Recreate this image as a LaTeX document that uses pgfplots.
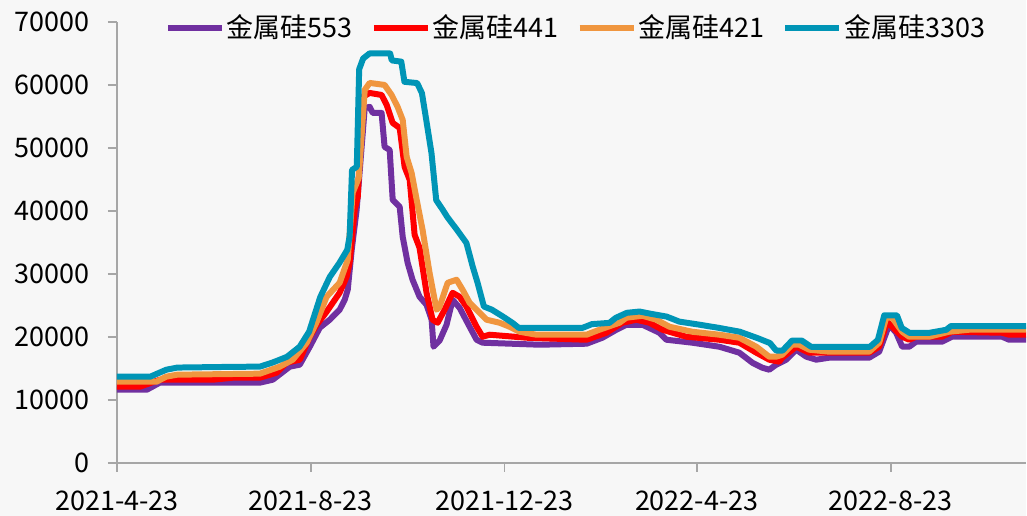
\documentclass[border=0pt]{standalone}
\usepackage{fontspec}
\setmainfont{Noto Sans CJK SC}
\usepackage{pgfplots}
\pgfplotsset{compat=1.18}
\definecolor{cA}{HTML}{7030A0}
\definecolor{cB}{HTML}{FF0000}
\definecolor{cC}{HTML}{F0963F}
\definecolor{cD}{HTML}{0095B6}
\definecolor{bgc}{HTML}{F7F7F7}
\definecolor{axc}{HTML}{A6A6A6}

\pgfplotstableread{
x y
0 11590
18.9 11590
27 12700
90 12700
98.1 13170
108.8 15240
115.1 15560
121.4 18410
127.7 21430
134 22700
140.2 24290
143.4 25870
145.3 27460
147.8 33810
150.9 40160
156 56350
159.1 56510
161 55560
166.6 55560
168.5 50160
171.7 49680
173.6 41750
178 40630
179.9 35870
183 31750
186.1 29050
190.5 26350
194.9 25080
198.1 22700
199.3 18410
203.1 19370
207.5 21900
211.3 25870
215.7 24600
222 21590
226.4 19520
230.2 19050
266 18730
295.6 18890
305.6 19840
314.4 21110
320.7 21900
330.8 21900
341.5 20630
345.9 19520
362.2 19050
379.2 18410
385.5 17940
391.8 17460
400 15870
406.2 15080
410.6 14760
415 15560
421.3 16350
427.6 17940
433.9 16830
440.2 16350
448.4 16670
473.5 16670
479.8 17620
486.1 21900
490.5 20630
494.3 18410
498.7 18410
503.1 19210
519.4 19210
525.7 20000
557.2 20000
561.6 19520
572.3 19520
}\tA

\pgfplotstableread{
x y
0 12060
14.5 12060
27 13170
60.4 13170
73 13490
90 13490
100.6 14290
106.9 15870
115.1 16350
121.4 20000
125.8 21900
132 23970
140.2 26980
144.6 29520
146.5 31750
149.7 40160
151.6 42220
154.7 58100
159.1 58730
166.6 58410
169.8 56830
173.6 53970
178 53170
181.1 46980
184.3 44920
187.4 36190
190.5 34130
194.9 26980
198.7 22700
201.9 22220
206.3 24290
211.3 26980
215.7 26350
220.1 24760
226.4 21590
230.2 20000
234.6 20320
257.8 19840
295.6 19520
308.1 20630
318.2 22220
327 22700
335.2 22220
343.4 21110
358.4 20000
379.2 19520
391.8 19050
402.5 17460
410.6 16350
416.9 16030
418.8 16670
427.6 18410
435.8 17460
473.5 17460
479.8 18410
484.8 22380
488 21590
494.3 20000
498.7 19520
503.1 20000
519.4 20000
525.7 20790
557.2 20630
561.6 20320
572.3 20320
}\tB

\pgfplotstableread{
x y
0 12860
25 12860
31 13650
38 13970
90 14130
102.5 15240
110.7 16350
119.5 19050
125.8 22380
132 26350
140.2 28570
145.3 32220
148.4 42860
152.2 45240
156 59210
159.1 60320
168.5 60000
172.9 58410
176.7 56510
179.9 54440
182.4 48570
185.5 46030
188.7 41750
192.4 36980
196.8 30160
201.2 24290
203.1 24760
208.2 28570
213.8 29050
217.6 27460
222 25400
228.3 23810
232.7 22700
240.9 22220
247.1 21590
253.4 20790
264.1 20320
295.6 20320
303.7 21110
316.3 22220
320.7 23020
330.8 23330
339.6 22700
347.8 21590
362.2 20790
379.2 20320
391.8 19840
402.5 18410
410.6 16830
415 16830
418.8 17140
425.1 18730
429.5 18730
435.8 17940
448.4 17620
473.5 17620
479.8 19050
484.2 23020
488 23020
494.3 20790
498.7 20000
511.3 20000
523.8 20790
536.4 21110
572.3 21110
}\tC

\pgfplotstableread{
x y
0 13650
21 13650
31 14750
38 15100
69 15200
90 15250
98 15900
107 16800
115 18400
121 20800
128 26300
134 29500
140 31700
145 33800
146.5 36000
148 46500
151 47000
152.5 62500
155 64200
159 65000
172 65000
173 63900
179 63700
181 60500
189 60300
192 58700
195 54000
198 49200
201 41700
205 40200
208 39000
214 37000
220 34900
224 31100
227 28600
231 24800
236 24300
243 23200
249 22200
253 21400
293 21400
299 22000
310 22200
314 23000
321 23800
329 24000
337 23600
346 23200
354 22400
367 21900
379 21400
392 20800
403 19800
411 19000
415 17800
419 17800
425 19400
431 19400
437 18400
448 18400
474 18400
479 19500
483 23400
491 23400
494 21400
499 20600
511 20600
522 21100
525 21700
572.3 21700
}\tD

\begin{document}
\begin{tikzpicture}
\fill[bgc] (-58.5pt,-26.5pt) rectangle (455pt,231.5pt);
\begin{axis}[
  scale only axis, width=455pt, height=220.5pt,
  xmin=0, xmax=572.3, ymin=0, ymax=70000,
  axis lines*=left,
  scaled y ticks=false,
  axis line style={draw=axc, line width=0.9pt},
  xtick={0,122,244,365,487},
  xticklabels={2021-4-23,2021-8-23,2021-12-23,2022-4-23,2022-8-23},
  ytick={0,10000,20000,30000,40000,50000,60000,70000},
  yticklabels={0,10000,20000,30000,40000,50000,60000,70000},
  tick align=outside, major tick length=4.5pt,
  tick style={draw=axc, line width=0.9pt},
  ticklabel style={font=\fontsize{13.5}{14}\selectfont, text=black, inner sep=0pt},
  yticklabel style={anchor=east, xshift=-9pt},
  xticklabel style={anchor=north, yshift=-9.5pt},
  legend columns=4,
  legend style={at={(0.505,1)}, anchor=center, yshift=-3pt, draw=none, fill=none,
    font=\fontsize{13.5}{14}\selectfont, inner sep=0pt,
    nodes={inner sep=1pt},
    /tikz/every even column/.append style={column sep=8pt}},
  legend image code/.code={\draw[#1, line width=3pt] (0pt,0pt) -- (27pt,0pt);},
  every axis plot/.append style={line width=3pt, line join=round},
  clip=true,
]
\addplot[cA] table {\tA};
\addlegendentry{金属硅553}
\addplot[cB] table {\tB};
\addlegendentry{金属硅441}
\addplot[cC] table {\tC};
\addlegendentry{金属硅421}
\addplot[cD] table {\tD};
\addlegendentry{金属硅3303}
\end{axis}
\end{tikzpicture}
\end{document}
